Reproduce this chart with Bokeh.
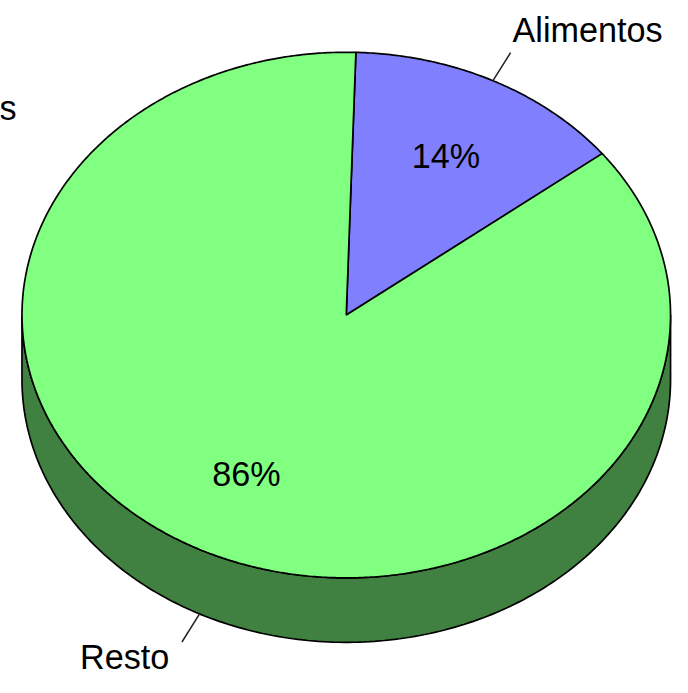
import numpy as np
from bokeh.plotting import figure
from bokeh.models import Range1d
from bokeh.core.properties import value
from bokeh.embed import file_html
from bokeh.resources import INLINE

# ---- data ----
categories = ["Alimentos", "Resto"]
shares = [14, 86]
pct_labels = ["14%", "86%"]
top_colors = ["#8080FF", "#80FF80"]
side_colors = ["#404080", "#408040"]

# ---- layout (reference pixels, scaled to fit the window) ----
REF_W, REF_H = 688, 693
W, H = 672, 677
S = W / REF_W
CX, CY = 354, 322      # pie centre
RX, RY = 332, 269      # ellipse radii
DEPTH = 66 / RY        # side thickness in data units
START = 88.3           # start angle (deg), slices go clockwise
FONT = value("Liberation Sans")

p = figure(width=W, height=H, output_backend="svg", toolbar_location=None,
           x_range=Range1d(-CX / RX, (REF_W - CX) / RX),
           y_range=Range1d((CY - REF_H) / RY, CY / RY),
           min_border=0)
p.axis.visible = False
p.grid.visible = False
p.outline_line_color = None
p.background_fill_color = "white"
p.border_fill_color = "white"

total = float(sum(shares))
bounds = []
a = START
for s in shares:
    a1 = a - s / total * 360.0
    bounds.append((a, a1))
    a = a1

# ---- sides (front half only) ----
side_xs, side_ys, side_fc = [], [], []
for (a0, a1), col in zip(bounds, side_colors):
    lo, hi = min(a0, a1), max(a0, a1)
    for flo, fhi in [(-540, -360), (-180, 0), (180, 360)]:
        l, h = max(lo, flo), min(hi, fhi)
        if h > l:
            t = np.radians(np.linspace(l, h, 200))
            xs = np.concatenate([np.cos(t), np.cos(t[::-1])])
            ys = np.concatenate([np.sin(t), np.sin(t[::-1]) - DEPTH])
            side_xs.append(list(xs)); side_ys.append(list(ys)); side_fc.append(col)
p.patches(side_xs, side_ys, fill_color=side_fc, line_color="black", line_width=1.7)

# ---- top slices ----
top_xs, top_ys = [], []
for (a0, a1) in bounds:
    n = max(int(abs(a0 - a1) * 2), 10)
    t = np.radians(np.linspace(a0, a1, n))
    top_xs.append([0.0] + list(np.cos(t)) + [0.0])
    top_ys.append([0.0] + list(np.sin(t)) + [0.0])
p.patches(top_xs, top_ys, fill_color=top_colors, line_color="black", line_width=1.7)

# ---- percentage labels ----
mids = [np.radians((a0 + a1) / 2) for a0, a1 in bounds]
p.text(x=[0.68 * np.cos(m) for m in mids], y=[0.68 * np.sin(m) for m in mids],
       text=pct_labels, text_font=FONT, text_font_size=f"{35 * S:.1f}px",
       text_align="center", text_baseline="middle", text_color="black")

# ---- leader lines and category labels ----
x0s, y0s, x1s, y1s = [], [], [], []
for m in mids:
    off = -DEPTH if np.sin(m) < 0 else 0.0
    x0s.append(np.cos(m)); y0s.append(np.sin(m) + off)
    x1s.append(1.12 * np.cos(m)); y1s.append(1.12 * np.sin(m) + off)
p.segment(x0s, y0s, x1s, y1s, line_color="#222222", line_width=1.5)

aligns = ["left" if np.cos(m) > 0 else "right" for m in mids]
xoffs = [2 * S if np.cos(m) > 0 else -13 * S for m in mids]
yoffs = [-23 * S if np.sin(m) > 0 else 15 * S for m in mids]
for i in range(len(categories)):
    p.text(x=[x1s[i]], y=[y1s[i]], text=[categories[i]], text_font=FONT,
           text_font_size=f"{35 * S:.1f}px", text_align=aligns[i], text_baseline="middle",
           x_offset=xoffs[i], y_offset=yoffs[i], text_color="black")

# fragment of a cropped label at the left edge
p.text(x=[-CX / RX], y=[(CY - 110) / RY], text=["s"], text_font=FONT,
       text_font_size=f"{35 * S:.1f}px", text_align="left", text_baseline="middle",
       x_offset=-1, text_color="black")

open("out.html", "w").write(file_html(p, INLINE))
